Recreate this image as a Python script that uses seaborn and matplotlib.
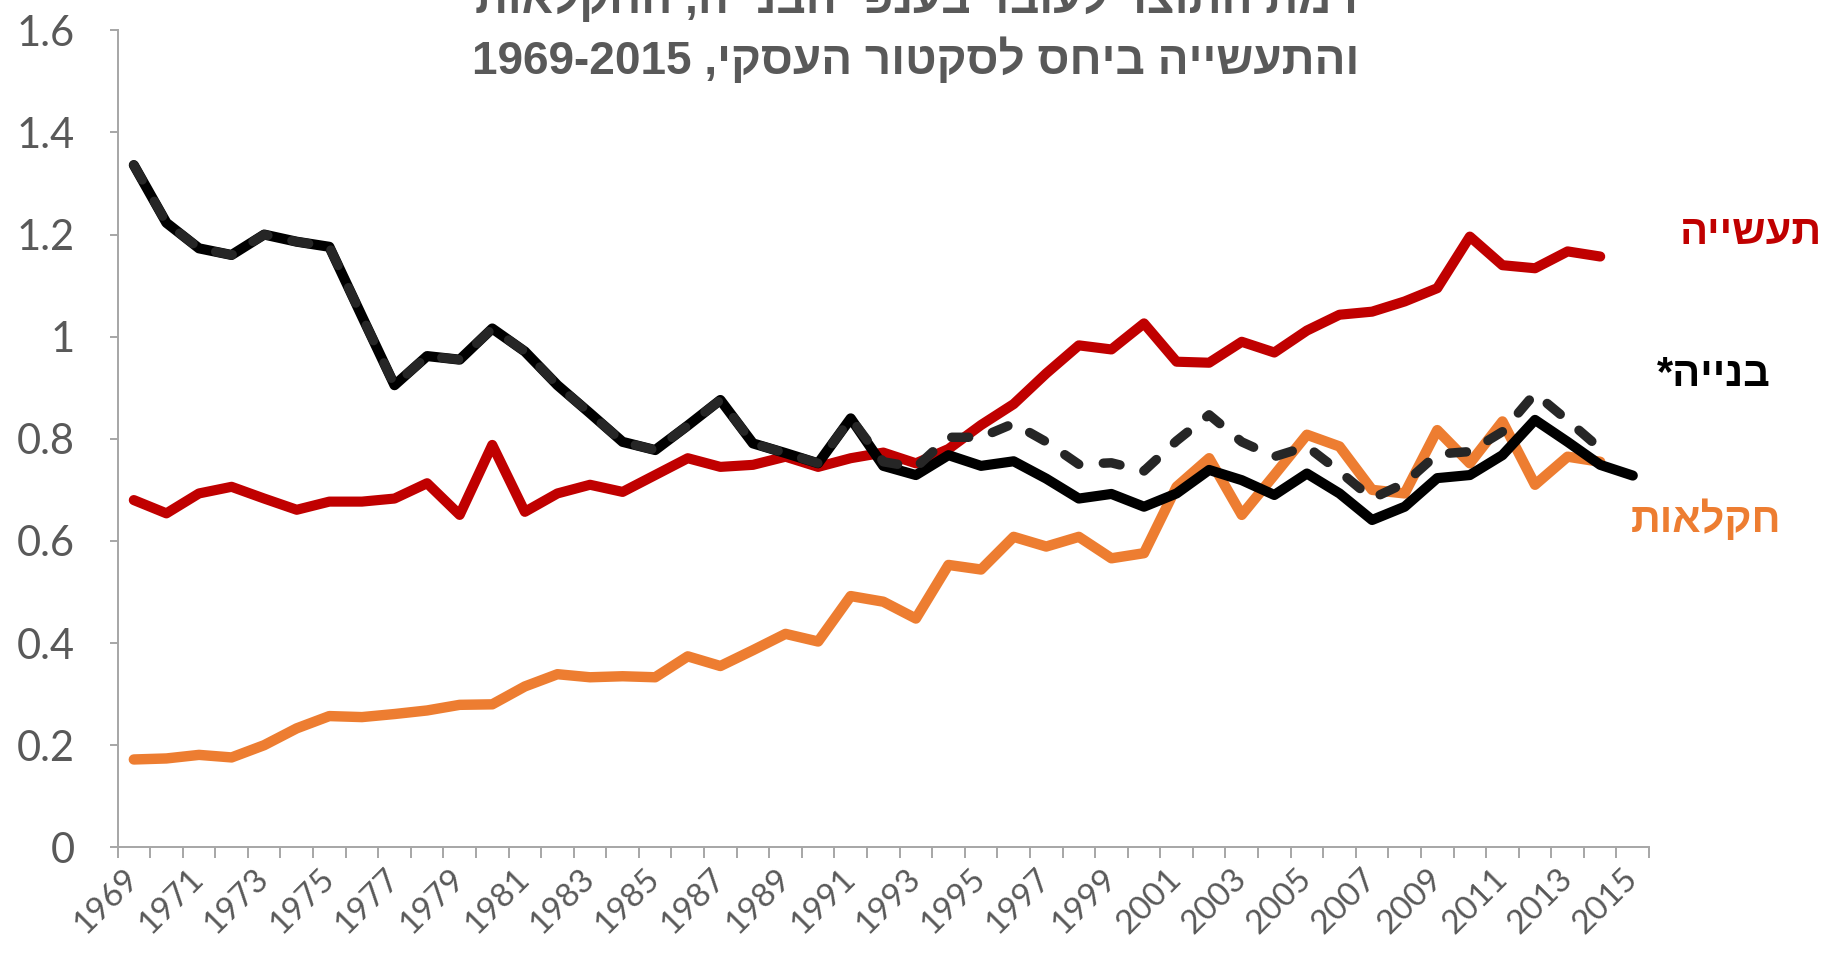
import re
import numpy as np
import matplotlib
matplotlib.use("Agg")
import matplotlib.pyplot as plt
import seaborn as sns

# ---------------- data ----------------
years = list(range(1969, 2016))

# construction (solid black), 1969-2015
construction = [1.336, 1.223, 1.173, 1.160, 1.200, 1.186, 1.176, 1.040, 0.905, 0.962,
                0.955, 1.016, 0.971, 0.905, 0.850, 0.794, 0.778, 0.826, 0.876, 0.791,
                0.772, 0.752, 0.840, 0.747, 0.729, 0.768, 0.747, 0.756, 0.722, 0.683,
                0.692, 0.667, 0.693, 0.739, 0.719, 0.690, 0.732, 0.693, 0.641, 0.667,
                0.723, 0.729, 0.768, 0.837, 0.794, 0.749, 0.728]

# construction, alternative series (dashed), 1969-2014
construction_alt = [1.336, 1.223, 1.173, 1.160, 1.200, 1.186, 1.176, 1.040, 0.905, 0.962,
                    0.955, 1.016, 0.971, 0.905, 0.850, 0.794, 0.778, 0.826, 0.876, 0.791,
                    0.772, 0.752, 0.840, 0.755, 0.744, 0.803, 0.803, 0.830, 0.794, 0.750,
                    0.753, 0.737, 0.796, 0.847, 0.794, 0.765, 0.785, 0.736, 0.683, 0.713,
                    0.770, 0.775, 0.814, 0.889, 0.836, 0.781]

# industry (red), 1969-2014
industry = [0.680, 0.654, 0.693, 0.706, 0.683, 0.661, 0.677, 0.677, 0.683, 0.713,
            0.651, 0.788, 0.657, 0.693, 0.710, 0.696, 0.729, 0.762, 0.745, 0.749,
            0.765, 0.745, 0.762, 0.773, 0.752, 0.780, 0.827, 0.868, 0.928, 0.983,
            0.975, 1.026, 0.951, 0.949, 0.990, 0.969, 1.012, 1.043, 1.049, 1.069,
            1.095, 1.196, 1.140, 1.134, 1.167, 1.157]

# agriculture (orange), 1969-2014
agriculture = [0.172, 0.174, 0.181, 0.176, 0.200, 0.233, 0.257, 0.255, 0.261, 0.268,
               0.279, 0.280, 0.315, 0.339, 0.333, 0.335, 0.333, 0.374, 0.355, 0.386,
               0.418, 0.403, 0.492, 0.481, 0.448, 0.553, 0.544, 0.608, 0.589, 0.608,
               0.566, 0.576, 0.706, 0.762, 0.651, 0.729, 0.808, 0.785, 0.700, 0.693,
               0.817, 0.752, 0.834, 0.710, 0.765, 0.755]

title_line1 = "רמת התוצר לעובד בענפי הבנייה, החקלאות"
title_line2 = "והתעשייה ביחס לסקטור העסקי, 1969-2015"
label_industry = "תעשייה"
label_construction = "בנייה*"
label_agriculture = "חקלאות"

y_ticks = [0, 0.2, 0.4, 0.6, 0.8, 1.0, 1.2, 1.4, 1.6]
y_tick_labels = ["0", "0.2", "0.4", "0.6", "0.8", "1", "1.2", "1.4", "1.6"]
x_tick_years = years[::2]


def visual(s):
    """Right-to-left text -> visual (left-to-right drawing) order, numbers kept."""
    r = s[::-1]
    return re.sub(r"[0-9][0-9\-\.]*[0-9]|[0-9]", lambda m: m.group(0)[::-1], r)


# ---------------- style ----------------
sns.set_theme(style="ticks")
plt.rcParams["font.family"] = ["Liberation Sans", "DejaVu Sans"]

GRAY = "#595959"
AXIS = "#A6A6A6"
RED = "#C00000"
ORANGE = "#ED7D31"
BLACK = "#000000"
DARK = "#262626"

fig = plt.figure(figsize=(18.25, 9.56), dpi=100)
fig.patch.set_facecolor("white")
ax = fig.add_axes([0.0644, 0.1137, 0.9036 - 0.0644, 0.9683 - 0.1137])
ax.set_facecolor("white")

common = dict(solid_joinstyle="round", solid_capstyle="round",
              dash_capstyle="round", dash_joinstyle="round")

sns.lineplot(x=years[:len(industry)], y=industry, ax=ax, color=RED,
             linewidth=7.3, zorder=2, **common)
sns.lineplot(x=years[:len(agriculture)], y=agriculture, ax=ax, color=ORANGE,
             linewidth=7.5, zorder=3, **common)
sns.lineplot(x=years, y=construction, ax=ax, color=BLACK,
             linewidth=7.3, zorder=4, **common)
sns.lineplot(x=years[:len(construction_alt)], y=construction_alt, ax=ax, color=DARK,
             linewidth=6.8, zorder=5, linestyle=(0, (1.8, 2.6)), **common)

ax.set_xlim(1968.5, 2015.5)
ax.set_ylim(0, 1.6)
ax.set_xlabel("")
ax.set_ylabel("")

ax.set_xticks(x_tick_years)
ax.set_xticklabels([str(y) for y in x_tick_years], rotation=45, ha="right",
                   va="center", rotation_mode="anchor")
ax.set_xticks(np.arange(1968.5, 2016, 1.0), minor=True)
ax.tick_params(axis="x", which="major", length=0, pad=19, labelsize=24,
               labelcolor=GRAY, bottom=True)
ax.tick_params(axis="x", which="minor", length=8, width=1.4, color=AXIS,
               direction="out", bottom=True)

ax.set_yticks(y_ticks)
ax.set_yticklabels(y_tick_labels)
ax.tick_params(axis="y", which="major", length=6, width=1.4, color=AXIS,
               direction="out", pad=25, labelsize=30, labelcolor=GRAY, left=True)
ax.tick_params(axis="y", which="minor", left=False)

for side in ["top", "right"]:
    ax.spines[side].set_visible(False)
for side in ["left", "bottom"]:
    ax.spines[side].set_color(AXIS)
    ax.spines[side].set_linewidth(1.4)

for lab in ax.get_xticklabels() + ax.get_yticklabels():
    lab.set_family(["Lato", "DejaVu Sans"])

# ---------------- titles & labels ----------------
fig.text(0.502, 1.0, visual(title_line1), ha="center", va="center",
         fontsize=33, fontweight="bold", color=GRAY)
fig.text(0.502, 0.937, visual(title_line2), ha="center", va="center",
         fontsize=33, fontweight="bold", color=GRAY)

fig.text(0.9984, 0.7563, visual(label_industry), ha="right", va="center",
         fontsize=30, fontweight="bold", color=RED)
fig.text(0.9704, 0.6077, visual(label_construction), ha="right", va="center",
         fontsize=30, fontweight="bold", color=BLACK)
fig.text(0.9759, 0.4561, visual(label_agriculture), ha="right", va="center",
         fontsize=30, fontweight="bold", color=ORANGE)

fig.savefig("out.png", dpi=100, facecolor="white")
